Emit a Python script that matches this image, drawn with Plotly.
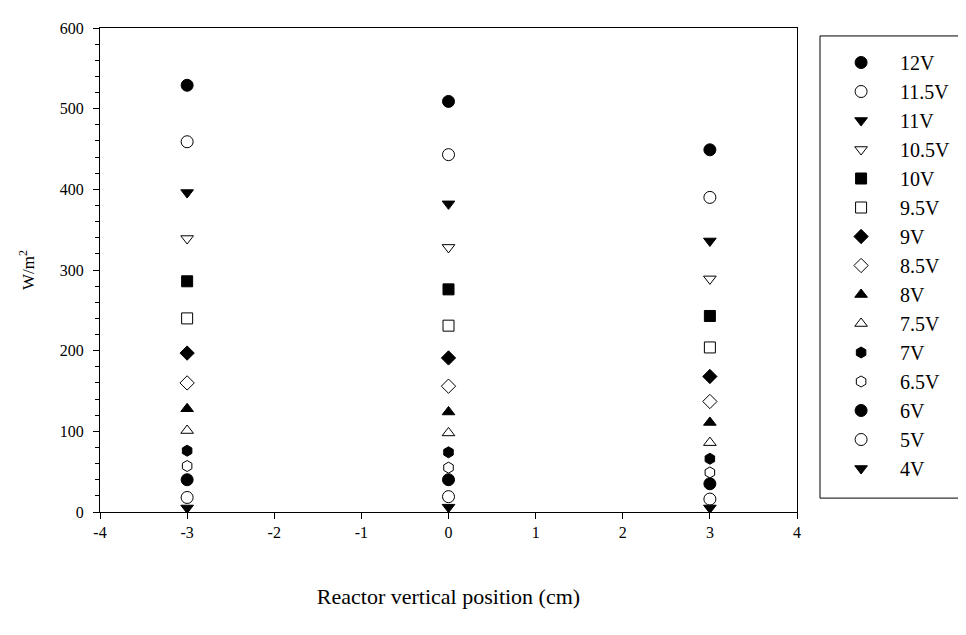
import plotly.graph_objects as go

positions = [-3, 0, 3]
labels = ["12V", "11.5V", "11V", "10.5V", "10V", "9.5V", "9V", "8.5V",
          "8V", "7.5V", "7V", "6.5V", "6V", "5V", "4V"]
v_m3 = [529, 459, 396, 339, 286, 240, 197, 160, 128, 101, 76, 57, 40, 18, 5]
v_0 = [509, 443, 382, 328, 276, 231, 191, 156, 124, 98, 74, 55, 40, 19, 6]
v_p3 = [449, 390, 336, 289, 243, 204, 168, 137, 111, 86, 66, 49, 35, 16, 5]
symbols = ["circle", "circle-open", "triangle-down", "triangle-down-open",
           "square", "square-open", "diamond", "diamond-open",
           "triangle-up", "triangle-up-open", "hexagon", "hexagon-open",
           "circle", "circle-open", "triangle-down"]
sizes = [12, 12, 11, 11, 11, 11, 11, 11, 11, 11, 11, 11, 12, 12, 11]
x_ticks = [-4, -3, -2, -1, 0, 1, 2, 3, 4]
x_ticktext = ["-4", "-3", "-2", "-1", "0", "1", "2", "3", "4"]
y_ticks = [0, 100, 200, 300, 400, 500, 600]

FONT = "Liberation Serif, Times New Roman, serif"

fig = go.Figure()
for i, lab in enumerate(labels):
    fig.add_trace(go.Scatter(
        x=positions, y=[v_m3[i], v_0[i], v_p3[i]],
        mode="markers", name=lab,
        marker=dict(symbol=symbols[i], size=sizes[i], color="black",
                    line=dict(color="black", width=1)),
    ))

# legend frame
fig.add_shape(type="rect", xref="paper", yref="paper",
              x0=1.033, x1=1.234, y0=0.0287, y1=0.9836,
              line=dict(color="black", width=1), fillcolor="rgba(0,0,0,0)")

fig.update_layout(
    width=966, height=635,
    margin=dict(l=92, r=177, t=16, b=131),
    paper_bgcolor="white", plot_bgcolor="white",
    font=dict(family=FONT, color="black", size=16),
    showlegend=True,
    legend=dict(
        x=1.036, xanchor="left", y=0.969, yanchor="top",
        borderwidth=0, bgcolor="rgba(0,0,0,0)",
        font=dict(family=FONT, size=20, color="black"),
        itemwidth=68,
    ),
    xaxis=dict(
        range=[-4, 4], tickvals=x_ticks, ticktext=x_ticktext,
        showgrid=False, zeroline=False,
        showline=True, linecolor="black", linewidth=1, mirror=True,
        ticks="outside", ticklen=6, tickcolor="black",
        tickfont=dict(size=16),
        title=dict(text="Reactor vertical position (cm)",
                   font=dict(size=22), standoff=48),
    ),
    yaxis=dict(
        range=[0, 600], tickvals=y_ticks,
        showgrid=False, zeroline=False,
        showline=True, linecolor="black", linewidth=1, mirror=True,
        ticks="outside", ticklen=6, tickcolor="black",
        tickfont=dict(size=16), ticklabelstandoff=6,
        minor=dict(dtick=20, ticks="outside", ticklen=4, tickcolor="black"),
        title=dict(text="W/m<sup>2</sup>", font=dict(size=17), standoff=20),
    ),
)

fig.write_html("out.html")
